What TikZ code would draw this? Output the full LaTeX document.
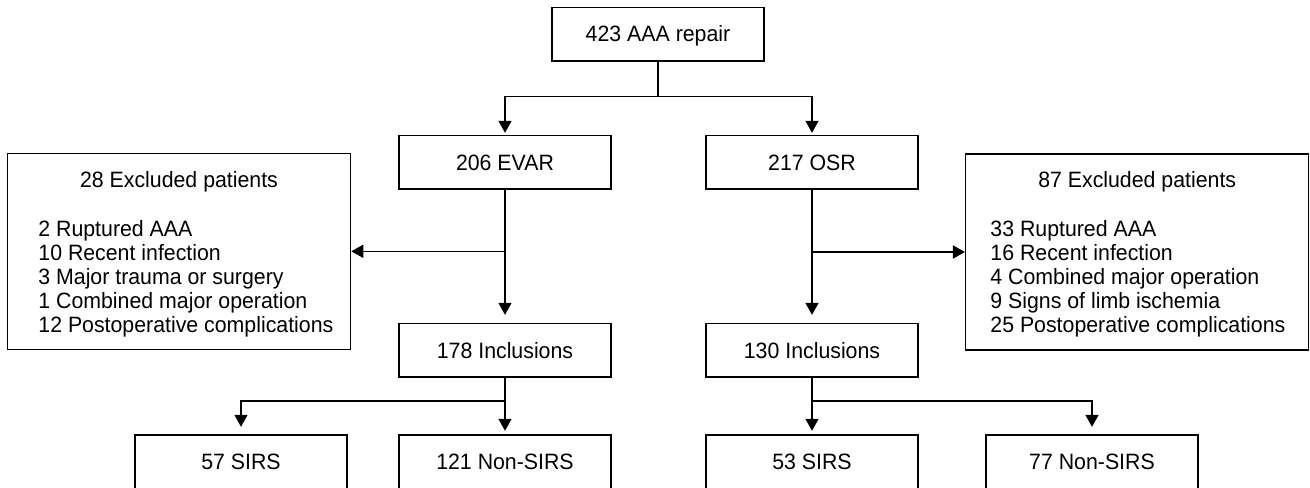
\documentclass[tikz,border=0pt]{standalone}
\usepackage{fontspec}
\setmainfont{Liberation Sans}[FakeStretch=0.96]
\usetikzlibrary{arrows.meta}
\begin{document}
\begin{tikzpicture}[x=0.5pt,y=-0.5pt,
  box/.style={draw, line width=0.75pt, minimum width=106pt, minimum height=26.75pt, inner sep=0pt,
    text height=7.95pt, text depth=0pt, font=\fontsize{11.1}{12}\selectfont},
  exbox/.style={draw, line width=0.75pt, minimum width=171.5pt, minimum height=98pt, inner sep=0pt},
  txt/.style={inner sep=0pt, font=\fontsize{11.1}{12}\selectfont},
  conn/.style={line width=0.75pt},
  arr/.style={conn, -{Triangle[length=6pt,width=6.5pt]}}]
\useasboundingbox (0,0) rectangle (1310,487);

\node[box] (top) at (658,34) {423 AAA repair};
\node[box] (evar) at (505,162.3) {206 EVAR};
\node[box] (osr) at (812,162.3) {217 OSR};
\node[exbox] (exL) at (179,251.3) {};
\node[exbox] (exR) at (1137.2,252) {};
\node[box] (incL) at (505,350.3) {178 Inclusions};
\node[box] (incR) at (812,350.3) {130 Inclusions};
\node[box] (sirsL) at (241,461.5) {57 SIRS};
\node[box] (nonL) at (505,461.5) {121 Non-SIRS};
\node[box] (sirsR) at (812,461.5) {53 SIRS};
\node[box] (nonR) at (1092,461.5) {77 Non-SIRS};

\node[txt, anchor=base] (exLt) at (179,187) {28 Excluded patients};
\node[txt, anchor=north west, align=left] (exLl) at (38,220) {2 Ruptured AAA\\10 Recent infection\\3 Major trauma or surgery\\1 Combined major operation\\12 Postoperative complications};
\node[txt, anchor=base] (exRt) at (1137.2,187) {87 Excluded patients};
\node[txt, anchor=north west, align=left] (exRl) at (990,220.5) {33 Ruptured AAA\\16 Recent infection\\4 Combined major operation\\9 Signs of limb ischemia\\25 Postoperative complications};

\coordinate (y1) at (0,96.7);
\coordinate (y2) at (0,401);
\coordinate (j1) at (top.south |- y1);
\draw[conn] (top.south) -- (j1);
\draw[arr, shorten >=1pt] (j1) -| (evar.north);
\draw[arr, shorten >=1pt] (j1) -| (osr.north);

\draw[arr, shorten >=4pt] (evar.south) -- (incL.north);
\draw[arr, shorten >=4pt] (osr.south) -- (incR.north);
\coordinate (bl) at (evar.south |- exL.east);
\coordinate (br) at (osr.south |- exR.west);
\draw[arr] (bl) -- (exL.east);
\draw[arr] (br) -- (exR.west);

\coordinate (jl) at (incL.south |- y2);
\coordinate (jr) at (incR.south |- y2);
\draw[arr, shorten >=1.6pt] (incL.south) -- (nonL.north);
\draw[arr, shorten >=3.6pt] (jl) -| (sirsL.north);
\draw[arr, shorten >=1.6pt] (incR.south) -- (sirsR.north);
\draw[arr, shorten >=3.6pt] (jr) -| (nonR.north);
\end{tikzpicture}
\end{document}
